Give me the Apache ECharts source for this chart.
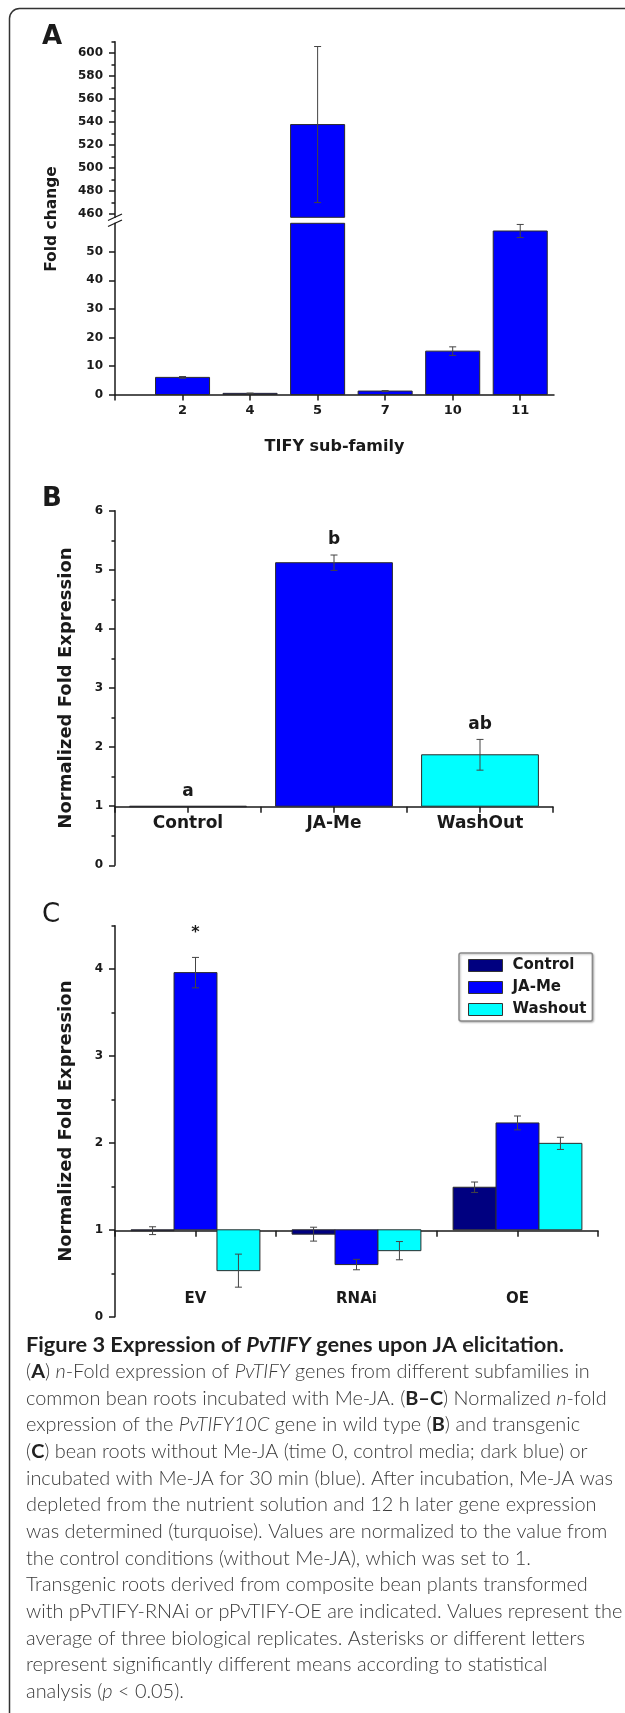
<!DOCTYPE html>
<html>
<head>
<meta charset="utf-8">
<script src="https://cdn.jsdelivr.net/npm/echarts@6/dist/echarts.min.js"></script>
<style>
  html, body { margin: 0; padding: 0; background: #fff; }
  #fig { width: 625px; height: 1713px; }
</style>
</head>
<body>
<div id="fig"></div>
<script>
// panel A: fold change per TIFY sub-family (axis broken between 60 and 457)
var tifyCats = ['2', '4', '5', '7', '10', '11'];
var tifyFold = [6.0, 0.4, 537.8, 1.2, 15.2, 57.3];
var tifyErr = [0.3, 0.1, 68, 0.2, 1.5, 2.3];
var ticksUpper = [460, 480, 500, 520, 540, 560, 580, 600];
var minorUpper = [470, 490, 510, 530, 550, 570, 590, 610];
var ticksLower = [0, 10, 20, 30, 40, 50];

// panel B: wild type roots
var wtCats = ['Control', 'JA-Me', 'WashOut'];
var wtFold = [0.99, 5.12, 1.87];
var wtErr = [0, 0.13, 0.26];
var wtLetters = ['a', 'b', 'ab'];
var ticksB = [0, 1, 2, 3, 4, 5, 6];
var minorB = [0.5, 1.5, 2.5, 3.5, 4.5, 5.5];

// panel C: transgenic roots
var tgCats = ['EV', 'RNAi', 'OE'];
var tgNames = ['Control', 'JA-Me', 'Washout'];
var tgControl = [0.99, 0.95, 1.49];
var tgControlErr = [0.045, 0.08, 0.06];
var tgJaMe = [3.96, 0.6, 2.23];
var tgJaMeErr = [0.175, 0.06, 0.08];
var tgWash = [0.53, 0.76, 1.995];
var tgWashErr = [0.19, 0.105, 0.07];
var tgStars = ['*', '', ''];
var ticksC = [0, 1, 2, 3, 4];
var minorC = [0.5, 1.5, 2.5, 3.5, 4.5];

var NAVY = '#000080', BLUE = '#0000ff', CYAN = '#00ffff';
var INK = '#1a1a1a';
var BOLD = 'DejaVu Sans';

var caption = [
  '{b|Figure 3 Expression of }{bi|PvTIFY}{b| genes upon JA elicitation.}',
  '({B|A}) {i|n}-Fold expression of {i|PvTIFY} genes from different subfamilies in',
  'common bean roots incubated with Me-JA. ({B|B\u2013C}) Normalized {i|n}-fold',
  'expression of the {i|PvTIFY10C} gene in wild type ({B|B}) and transgenic',
  '({B|C}) bean roots without Me-JA (time 0, control media; dark blue) or',
  'incubated with Me-JA for 30 min (blue). After incubation, Me-JA was',
  'depleted from the nutrient solution and 12 h later gene expression',
  'was determined (turquoise). Values are normalized to the value from',
  'the control conditions (without Me-JA), which was set to 1.',
  'Transgenic roots derived from composite bean plants transformed',
  'with pPvTIFY-RNAi or pPvTIFY-OE are indicated. Values represent the',
  'average of three biological replicates. Asterisks or different letters',
  'represent significantly different means according to statistical',
  'analysis ({i|p} < 0.05).'
];

function rows(xs, vals, errs) {
  return vals.map(function (v, i) { return [xs[i], v, errs[i]]; });
}

// bar + error bar + optional mark, drawn from the axes of its grid
function barRender(o) {
  return function (params, api) {
    var cs = params.coordSys;
    var top = cs.y, bot = cs.y + cs.height;
    var i = params.dataIndex;
    var x = api.value(0), v = api.value(1), e = api.value(2);
    var w = api.size([1, 0])[0] * 0.8 / o.n;
    var cx = api.coord([x, 0])[0] + (o.k - (o.n - 1) / 2) * w;
    var clamp = function (y) { return Math.max(top, Math.min(bot, y)); };
    var yv = clamp(api.coord([x, v])[1]);
    var yb = clamp(api.coord([x, o.base])[1]);
    var kids = [];
    var outside = Math.abs(yv - yb) < 0.01 && (yv <= top || yv >= bot);
    if (!outside) {
      kids.push({
        type: 'rect',
        shape: { x: cx - w / 2, y: Math.min(yv, yb), width: w, height: Math.abs(yv - yb) },
        style: { fill: o.colors ? o.colors[i] : o.color, stroke: '#2b2b2b', lineWidth: 1 }
      });
    }
    var yHi = api.coord([x, v + e])[1], yLo = api.coord([x, v - e])[1];
    if (e > 0 && yHi >= top - 1 && yLo <= bot + 1) {
      var es = { stroke: '#444', lineWidth: 1 };
      kids.push({ type: 'line', shape: { x1: cx, y1: yHi, x2: cx, y2: yLo }, style: es });
      kids.push({ type: 'line', shape: { x1: cx - 3.5, y1: yHi, x2: cx + 3.5, y2: yHi }, style: es });
      kids.push({ type: 'line', shape: { x1: cx - 3.5, y1: yLo, x2: cx + 3.5, y2: yLo }, style: es });
    }
    if (o.marks && o.marks[i]) {
      kids.push({
        type: 'text', x: cx, y: Math.min(yHi, yv) - o.markGap,
        style: { text: o.marks[i], align: 'center', verticalAlign: 'middle',
          fontFamily: BOLD, fontWeight: 'bold', fontSize: o.markSize, fill: INK }
      });
    }
    return { type: 'group', children: kids };
  };
}

var lineStyle = { color: INK, width: 1.5 };
function yMajor(grid, min, max, ticks, extra) {
  var ax = {
    type: 'value', gridIndex: grid, min: min, max: max, position: 'left',
    axisLine: { show: true, onZero: false, lineStyle: lineStyle },
    axisTick: { show: true, length: 6, customValues: ticks, lineStyle: lineStyle },
    axisLabel: { customValues: ticks, margin: 12, fontFamily: BOLD, fontWeight: 'bold', fontSize: 12, color: INK },
    splitLine: { show: false }
  };
  for (var k in extra) ax[k] = extra[k];
  return ax;
}
function yMinor(grid, min, max, ticks) {
  return {
    type: 'value', gridIndex: grid, min: min, max: max, position: 'left',
    axisLine: { show: false },
    axisTick: { show: true, length: 3.5, customValues: ticks, lineStyle: lineStyle },
    axisLabel: { show: false }, splitLine: { show: false }
  };
}
function xShown(grid, max, ticks, labels, fmt, size, margin, extra) {
  var ax = {
    type: 'value', gridIndex: grid, min: 0, max: max,
    axisLine: { show: true, onZero: false, lineStyle: lineStyle },
    axisTick: { show: true, length: 6, customValues: ticks, lineStyle: lineStyle },
    axisLabel: { customValues: labels, formatter: fmt, margin: margin,
      fontFamily: BOLD, fontWeight: 'bold', fontSize: size, color: INK },
    splitLine: { show: false }
  };
  for (var k in extra) ax[k] = extra[k];
  return ax;
}
var hidden = function (grid, max) { return { type: 'value', gridIndex: grid, min: 0, max: max, show: false }; };

var yName = {
  name: 'Normalized Fold Expression', nameLocation: 'middle', nameGap: 40,
  nameTextStyle: { fontFamily: BOLD, fontWeight: 'bold', fontSize: 18, color: INK }
};

var tifyX = tifyCats.map(function (c, i) { return i + 1; });
var midX = [0.5, 1.5, 2.5];
var halfTicks = [0, 0.5, 1, 1.5, 2, 2.5, 3];

var graphics = [
  { type: 'rect', z: 0, shape: { x: 9.5, y: 8.5, width: 700, height: 1800, r: 10 },
    style: { fill: 'none', stroke: '#333', lineWidth: 1.5 } },
  { type: 'text', x: 42, y: 37, style: { text: 'A', fontFamily: BOLD, fontWeight: 'bold', fontSize: 26, fill: INK, verticalAlign: 'middle' } },
  { type: 'text', x: 42, y: 499, style: { text: 'B', fontFamily: BOLD, fontWeight: 'bold', fontSize: 26, fill: INK, verticalAlign: 'middle' } },
  { type: 'text', x: 42, y: 915, style: { text: 'C', fontFamily: BOLD, fontSize: 26, fill: INK, verticalAlign: 'middle' } },
  { type: 'text', x: 52, y: 219, rotation: Math.PI / 2,
    style: { text: 'Fold change', fontFamily: BOLD, fontWeight: 'bold', fontSize: 15.5, fill: INK, align: 'center', verticalAlign: 'middle' } },
  // axis break marks
  { type: 'line', shape: { x1: 108, y1: 220.5, x2: 122, y2: 214 }, style: { stroke: INK, lineWidth: 1.3 } },
  { type: 'line', shape: { x1: 108, y1: 226.5, x2: 122, y2: 220 }, style: { stroke: INK, lineWidth: 1.3 } }
];

var CAP = 19.9, TITLE = 21.8;
var capRich = {
  i: { fontFamily: 'Lato', fontSize: CAP, fontWeight: 300, fontStyle: 'italic', fill: '#3a3a3a' },
  B: { fontFamily: 'Lato', fontSize: CAP, fontWeight: 'bold', fill: '#222' },
  b: { fontFamily: 'Lato', fontSize: TITLE, fontWeight: 'bold', fill: '#1f1f1f' },
  bi: { fontFamily: 'Lato', fontSize: TITLE, fontWeight: 'bold', fontStyle: 'italic', fill: '#1f1f1f' }
};
caption.forEach(function (line, i) {
  graphics.push({
    type: 'text', x: 26, y: 1345 + i * 26.67,
    style: { text: line, rich: capRich, fontFamily: 'Lato', fontSize: CAP, fontWeight: 300,
      fill: '#3a3a3a', verticalAlign: 'middle' }
  });
});

var option = {
  animation: false,
  backgroundColor: '#fff',
  grid: [
    { left: 115, top: 41.7, width: 439, height: 175.6 },
    { left: 115, top: 223.3, width: 439, height: 171.2 },
    { left: 115, top: 510.7, width: 438, height: 354.6 },
    { left: 115, top: 510.7, width: 438, height: 296 },
    { left: 115, top: 925.7, width: 483, height: 391 },
    { left: 115, top: 925.7, width: 483, height: 305 }
  ],
  xAxis: [
    hidden(0, 6.5),
    xShown(1, 6.5, [0, 1, 2, 3, 4, 5, 6], tifyX, function (v) { return tifyCats[v - 1]; }, 13, 10, {
      name: 'TIFY sub-family', nameLocation: 'middle', nameGap: 44,
      nameTextStyle: { fontFamily: BOLD, fontWeight: 'bold', fontSize: 16, color: INK }
    }),
    hidden(2, 3),
    xShown(3, 3, halfTicks, midX, function (v) { return wtCats[Math.floor(v)]; }, 17, 8),
    hidden(4, 3),
    xShown(5, 3, halfTicks, midX, function (v) { return tgCats[Math.floor(v)]; }, 15, 61)
  ],
  yAxis: [
    yMajor(0, 457, 610, ticksUpper),
    yMinor(0, 457, 610, minorUpper),
    yMajor(1, 0, 60, ticksLower),
    yMajor(2, 0, 6, ticksB, yName),
    yMinor(2, 0, 6, minorB),
    hidden(3, 1),
    yMajor(4, 0, 4.5, ticksC, yName),
    yMinor(4, 0, 4.5, minorC),
    hidden(5, 1)
  ],
  legend: {
    data: tgNames, orient: 'vertical', left: 459, top: 953,
    icon: 'rect', itemWidth: 34, itemHeight: 12, itemGap: 7,
    padding: [5, 6, 4, 9], borderColor: '#8a8a8a', borderWidth: 1.5, borderRadius: 2,
    backgroundColor: '#fff', shadowColor: 'rgba(0,0,0,0.25)', shadowBlur: 2, shadowOffsetX: 1, shadowOffsetY: 1,
    textStyle: { fontFamily: BOLD, fontWeight: 'bold', fontSize: 15, color: INK, padding: [0, 0, 0, 5] },
    itemStyle: { borderColor: '#333', borderWidth: 1 }
  },
  graphic: graphics,
  series: [
    { type: 'custom', xAxisIndex: 0, yAxisIndex: 0, encode: { x: 0, y: 1 },
      data: rows(tifyX, tifyFold, tifyErr), renderItem: barRender({ color: BLUE, base: 0, n: 1, k: 0 }) },
    { type: 'custom', xAxisIndex: 1, yAxisIndex: 2, encode: { x: 0, y: 1 },
      data: rows(tifyX, tifyFold, tifyErr), renderItem: barRender({ color: BLUE, base: 0, n: 1, k: 0 }) },
    { type: 'custom', xAxisIndex: 2, yAxisIndex: 3, encode: { x: 0, y: 1 },
      data: rows(midX, wtFold, wtErr),
      renderItem: barRender({ colors: [NAVY, BLUE, CYAN], base: 1, n: 1, k: 0, marks: wtLetters, markGap: 15, markSize: 17 }) },
    { type: 'custom', name: tgNames[0], xAxisIndex: 4, yAxisIndex: 6, encode: { x: 0, y: 1 },
      itemStyle: { color: NAVY, borderColor: '#333', borderWidth: 1 },
      data: rows(midX, tgControl, tgControlErr), renderItem: barRender({ color: NAVY, base: 1, n: 3, k: 0 }) },
    { type: 'custom', name: tgNames[1], xAxisIndex: 4, yAxisIndex: 6, encode: { x: 0, y: 1 },
      itemStyle: { color: BLUE, borderColor: '#333', borderWidth: 1 },
      data: rows(midX, tgJaMe, tgJaMeErr),
      renderItem: barRender({ color: BLUE, base: 1, n: 3, k: 1, marks: tgStars, markGap: 25, markSize: 16 }) },
    { type: 'custom', name: tgNames[2], xAxisIndex: 4, yAxisIndex: 6, encode: { x: 0, y: 1 },
      itemStyle: { color: CYAN, borderColor: '#333', borderWidth: 1 },
      data: rows(midX, tgWash, tgWashErr), renderItem: barRender({ color: CYAN, base: 1, n: 3, k: 2 }) }
  ]
};

var myChart = echarts.init(document.getElementById('fig'));
myChart.setOption(option);
</script>
</body>
</html>
